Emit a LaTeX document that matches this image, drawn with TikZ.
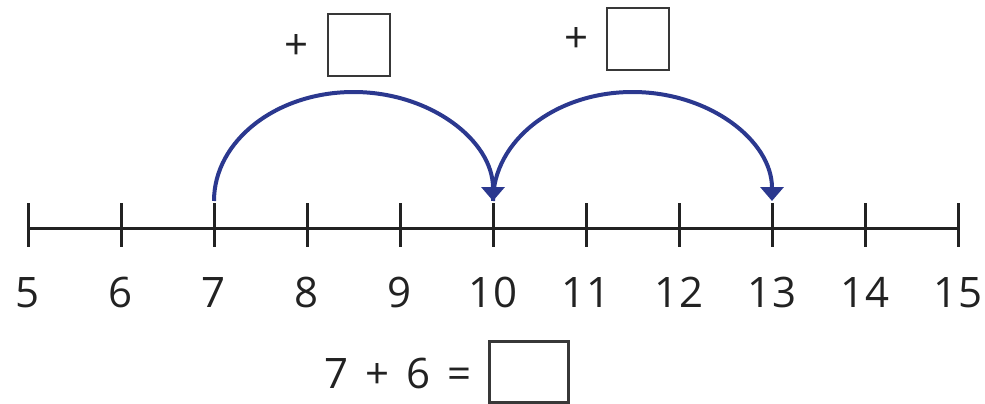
\documentclass[tikz,border=0pt]{standalone}
\usepackage{fontspec}
\setmainfont{Open Sans}
\usetikzlibrary{arrows.meta}
\definecolor{jumpblue}{RGB}{43,56,143}
\definecolor{ink}{RGB}{34,34,34}
\tikzset{
  axisline/.style={draw=ink, line width=3pt},
  tickmark/.style={draw=ink, line width=3pt},
  numlabel/.style={anchor=base, inner sep=0pt, font=\fontsize{42}{50}\selectfont, text=ink},
  blank/.style={draw=ink!90, line width=2.5pt, minimum width=62pt, minimum height=62pt, inner sep=0pt},
  jump/.style={draw=jumpblue, line width=4pt, -{Triangle[width=23pt,length=14pt]}, fill=none},
}
\begin{document}
\begin{tikzpicture}[x=1pt,y=-1pt]
\useasboundingbox (0,0) rectangle (985,404);
% axis
\coordinate (left) at (28,228);
\coordinate (right) at (958,228);
\draw[axisline] (left) -- (right);
\foreach \n [evaluate=\n as \xx using {28+93*(\n-5)}] in {5,...,15} {
  \coordinate (top\n) at (\xx,203);
  \coordinate (bot\n) at (\xx,247);
  \draw[tickmark] (top\n) -- (bot\n);
  \node[numlabel] (lab\n) at (\xx,307) {\n};
}
% jumps
\coordinate (s7) at (214,201);
\coordinate (s10) at (493,201);
\draw[jump] (s7) arc[start angle=180, end angle=360, x radius=139.5, y radius=109];
\draw[jump] (s10) arc[start angle=180, end angle=360, x radius=139.5, y radius=109];
% top blanks
\node[blank] (box1) at (359,45) {};
\node[numlabel, anchor=center] (plus1) at (297,47) {+};
\node[blank] (box2) at (638,39) {};
\node[numlabel, anchor=center] (plus2) at (577,40) {+};
% equation
\node[numlabel] (eq) at (398,388) {\spaceskip=17pt 7 + 6 =};
\node[blank, minimum width=79pt, minimum height=61pt] (ans) at (529,372) {};
\end{tikzpicture}
\end{document}
